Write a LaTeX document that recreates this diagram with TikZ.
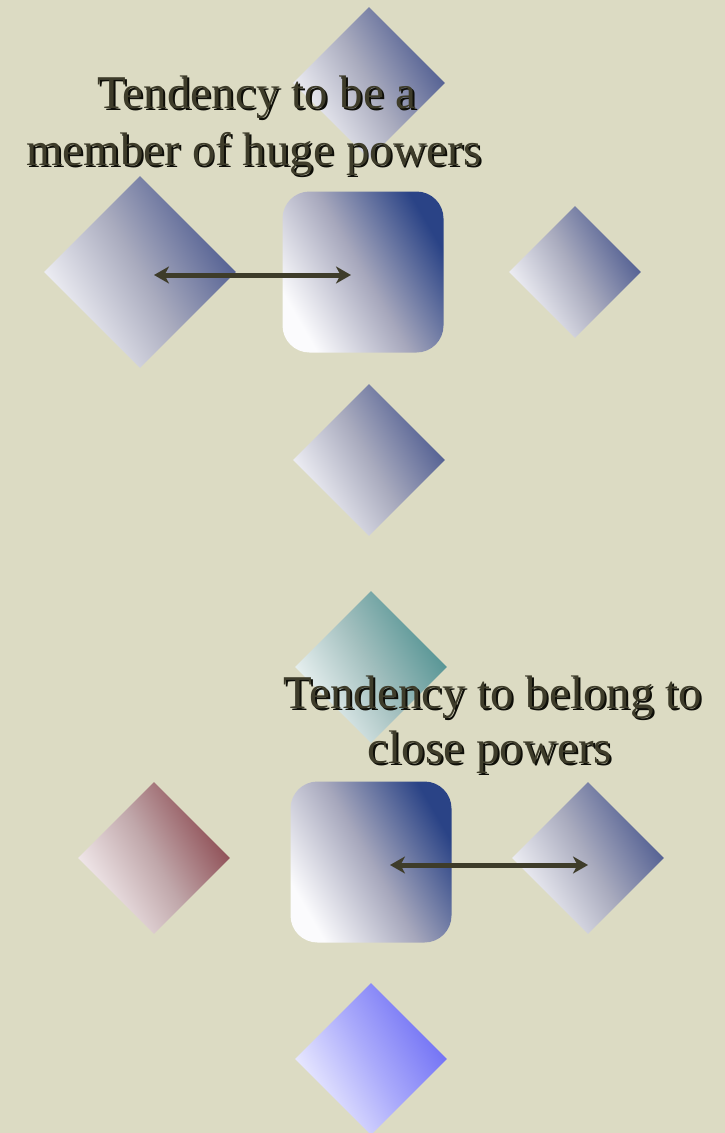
\documentclass[tikz,border=0pt]{standalone}
\usepackage{fontspec}
\setmainfont{Liberation Serif}
\usetikzlibrary{shapes.geometric,arrows.meta,calc}
\definecolor{bgc}{HTML}{DCDBC3}
\definecolor{textc}{HTML}{3E3C2A}
\definecolor{shadc}{HTML}{0E0E08}
\definecolor{arrc}{HTML}{3E3C2A}
\definecolor{bluelt}{HTML}{F6F6FA}
\definecolor{bluemd}{HTML}{A9ABBE}
\definecolor{bluedk}{HTML}{4A588E}
\definecolor{sqlt}{HTML}{FBFBFD}
\definecolor{sqmd}{HTML}{A6A7BC}
\definecolor{sqdk}{HTML}{2A4386}
\definecolor{teallt}{HTML}{F0F6F6}
\definecolor{tealmd}{HTML}{A2BFBE}
\definecolor{tealdk}{HTML}{4E9090}
\definecolor{redlt}{HTML}{F6EFF1}
\definecolor{redmd}{HTML}{C0A7AA}
\definecolor{reddk}{HTML}{8A464D}
\definecolor{brlt}{HTML}{F0F0FF}
\definecolor{brmd}{HTML}{AAAAFB}
\definecolor{brdk}{HTML}{6C6CF4}
\newcommand\shtxt[1]{\rlap{\kern2pt\raisebox{-2pt}{\color{shadc}#1}}{\color{textc}#1}}
\tikzset{
  dia/.style={diamond, shape aspect=1, inner sep=0pt, minimum width=#1, minimum height=#1},
  grad/.style n args={4}{shade, bottom color=#1, top color=#3, middle color=#2, shading angle=#4},
  rsq/.style={rectangle, rounded corners=27pt, inner sep=0pt, minimum size=161pt, grad={sqlt}{sqmd}{sqdk}{-60}},
  bluegr/.style={grad={bluelt}{bluemd}{bluedk}{-60}},
  lbl/.style={anchor=base, inner sep=0pt, font=\fontsize{47}{57}\selectfont},
  arr/.style={{Stealth[length=15pt,width=17pt,inset=4.5pt]}-{Stealth[length=15pt,width=17pt,inset=4.5pt]}, line width=5pt, draw=arrc}
}
\begin{document}
\begin{tikzpicture}[x=1pt,y=-1pt]
\fill[bgc] (0,0) rectangle (725,1133);
\useasboundingbox (0,0) rectangle (725,1133);
% top group
\node[dia=152pt, bluegr] (d1) at (369,83) {};
\node[lbl] (t1a) at (257,108) {\shtxt{Tendency to be a}};
\node[lbl] (t1b) at (254,165) {\shtxt{member of huge powers}};
\node[dia=192pt, bluegr] (d2) at (140,272) {};
\node[rsq] (s1) at (363,272) {};
\node[dia=132pt, bluegr] (d3) at (575,272) {};
\draw[arr] ([xshift=14pt,yshift=-3pt]d2.center) -- ([xshift=-12pt,yshift=-3pt]s1.center);
\node[dia=152pt, bluegr] (d4) at (369,460) {};
% bottom group
\node[dia=152pt, grad={teallt}{tealmd}{tealdk}{-60}] (d5) at (371,667) {};
\node[lbl] (t2a) at (493,708) {\shtxt{Tendency to belong to}};
\node[lbl] (t2b) at (490,763) {\shtxt{close powers}};
\node[dia=152pt, grad={redlt}{redmd}{reddk}{-60}] (d6) at (154,858) {};
\node[rsq] (s2) at (371,862) {};
\node[dia=152pt, bluegr] (d7) at (588,858) {};
\draw[arr] ([xshift=19pt,yshift=-3pt]s2.center) -- ([yshift=-7pt]d7.center);
\node[dia=152pt, grad={brlt}{brmd}{brdk}{-60}] (d8) at (371,1059) {};
\end{tikzpicture}
\end{document}
